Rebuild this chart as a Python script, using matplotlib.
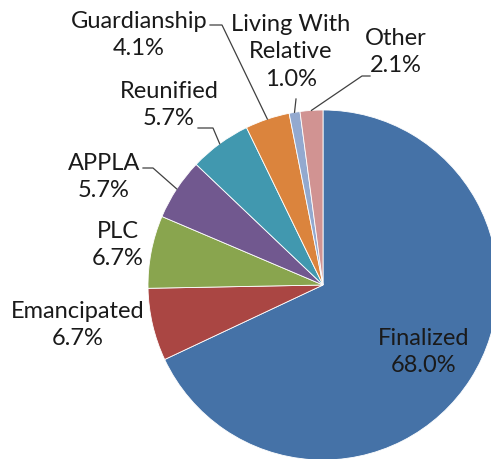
import numpy as np
import matplotlib
matplotlib.use("Agg")
import matplotlib.pyplot as plt

# Chart data
categories = ["Finalized", "Emancipated", "PLC", "APPLA", "Reunified",
              "Guardianship", "Living With\nRelative", "Other"]
shares = [68.0, 6.7, 6.7, 5.7, 5.7, 4.1, 1.0, 2.1]
colors = ["#4572A7", "#AA4643", "#89A54E", "#71588F", "#4198AF",
          "#DB843D", "#93A9CF", "#D19392"]

W, H = 491, 459
CX, CY, R = 323, 285, 175  # pie centre / radius in pixels

plt.rcParams["font.family"] = ["Lato", "DejaVu Sans"]

fig = plt.figure(figsize=(W / 100, H / 100), dpi=100)
ax = fig.add_axes([(CX - R) / W, (H - CY - R) / H, 2 * R / W, 2 * R / H])

wedges, _ = ax.pie(shares, colors=colors, startangle=90, counterclock=False,
                   radius=1, center=(0, 0), frame=True,
                   wedgeprops=dict(edgecolor="white", linewidth=0.6))
ax.set_xlim(-1, 1)
ax.set_ylim(-1, 1)
ax.axis("off")


def px(x, y):
    # pixel position -> data coords
    return (x - CX) / R, (CY - y) / R


# label centres (pixels)
label_pos = {
    "Finalized": (424, 352),
    "Emancipated": (78, 325),
    "PLC": (118, 245),
    "APPLA": (104, 177),
    "Reunified": (169, 105),
    "Guardianship": (139, 35),
    "Living With\nRelative": (291, 52),
    "Other": (396, 52),
}

# leader lines: text end point and elbow point (pixels)
leaders = {
    "APPLA": [(143, 168), (153, 168)],
    "Reunified": [(198, 128), (213, 128)],
    "Guardianship": [(210, 25), (222, 25)],
    "Living With\nRelative": [(296, 99), (296, 99)],
    "Other": [(370, 76), (362, 76)],
}

for w, cat, s in zip(wedges, categories, shares):
    x, y = px(*label_pos[cat])
    ax.text(x, y, f"{cat}\n{s:.1f}%", ha="center", va="center",
            fontsize=17, color="#1a1a1a", linespacing=1.4)
    if cat in leaders:
        mid = np.deg2rad((w.theta1 + w.theta2) / 2)
        (x0, y0), (x1, y1) = [px(*p) for p in leaders[cat]]
        ax.plot([x0, x1, np.cos(mid)], [y0, y1, np.sin(mid)],
                color="#404040", linewidth=0.9, clip_on=False)

fig.savefig("out.png", dpi=100)
